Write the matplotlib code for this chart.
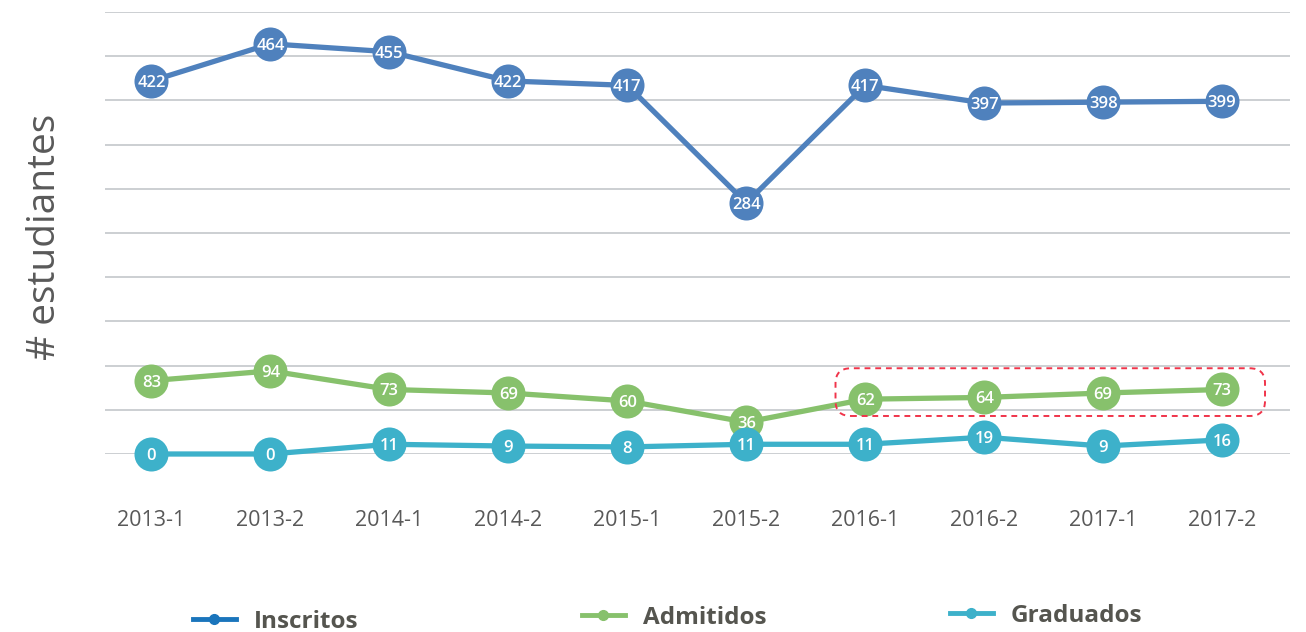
import matplotlib.pyplot as plt
from matplotlib.lines import Line2D
from matplotlib.patches import FancyBboxPatch

plt.rcParams['font.family'] = ['Open Sans', 'DejaVu Sans']

periodos = ["2013-1", "2013-2", "2014-1", "2014-2", "2015-1",
            "2015-2", "2016-1", "2016-2", "2017-1", "2017-2"]
inscritos = [422, 464, 455, 422, 417, 284, 417, 397, 398, 399]
admitidos = [83, 94, 73, 69, 60, 36, 62, 64, 69, 73]
graduados = [0, 0, 11, 9, 8, 11, 11, 19, 9, 16]

series = [
    ("Inscritos", inscritos, "#4f81bd", "#1a75bc"),
    ("Admitidos", admitidos, "#87c16c", "#87c16c"),
    ("Graduados", graduados, "#3db1ca", "#3db1ca"),
]

W, H = 1306, 632
fig = plt.figure(figsize=(W / 100, H / 100), dpi=100)
ax = fig.add_axes([105 / W, (H - 454) / H, (1290 - 105) / W, (454 - 12) / H])

x = list(range(len(periodos)))
for nombre, vals, color, _ in series:
    ax.plot(x, vals, color=color, lw=3.8, zorder=3, clip_on=False,
            marker="o", markersize=24.5, markeredgewidth=0, solid_capstyle="round")
    for xi, v in zip(x, vals):
        ax.text(xi, v, str(v), color="white", fontsize=12, fontweight="semibold",
                ha="center", va="center_baseline", zorder=5, clip_on=False)

ax.set_xlim(-0.39, 9.57)
ax.set_ylim(0, 500)
ax.set_yticks(range(0, 501, 50))
ax.set_yticklabels([])
ax.yaxis.grid(True, color="#c3c7cb", lw=1.2, zorder=0)
ax.set_axisbelow(True)
ax.tick_params(axis="both", length=0)
ax.set_xticks(x)
ax.set_xticklabels(periodos, fontsize=15.5, color="#595959")
ax.tick_params(axis="x", pad=40)
for s in ax.spines.values():
    s.set_visible(False)

# recuadro rojo alrededor de admitidos 2016-1 .. 2017-2
x0, x1 = 6 - 0.25, 9 + 0.36
y0, y1 = min(admitidos[6:]) - 19, max(admitidos[6:]) + 24
caja = FancyBboxPatch((x0, y0), x1 - x0, y1 - y0,
                      boxstyle="round,pad=0,rounding_size=0.13",
                      mutation_aspect=130, fill=False, ec="#f0344a",
                      lw=1.4, ls=(0, (3, 2.5)), zorder=6, clip_on=False)
ax.add_patch(caja)

fig.text(45 / W, 1 - 237 / H, "# estudiantes", rotation=90, fontsize=28,
         color="#595959", ha="center", va="center")

# leyenda: tres entradas sueltas
pos = [(193, 622), (582, 618), (950, 616)]
for (nombre, _, _, lcolor), (px, py) in zip(series, pos):
    h = Line2D([], [], color=lcolor, lw=3.5, marker="o", markersize=7)
    fig.legend(handles=[h], labels=[nombre], loc="center left",
               bbox_to_anchor=(px / W, 1 - py / H), frameon=False,
               handlelength=1.75, handletextpad=0.75, borderaxespad=0, borderpad=0,
               prop={"size": 17.5, "weight": "bold"}, labelcolor="#55554f")

fig.savefig("out.png", dpi=100)
